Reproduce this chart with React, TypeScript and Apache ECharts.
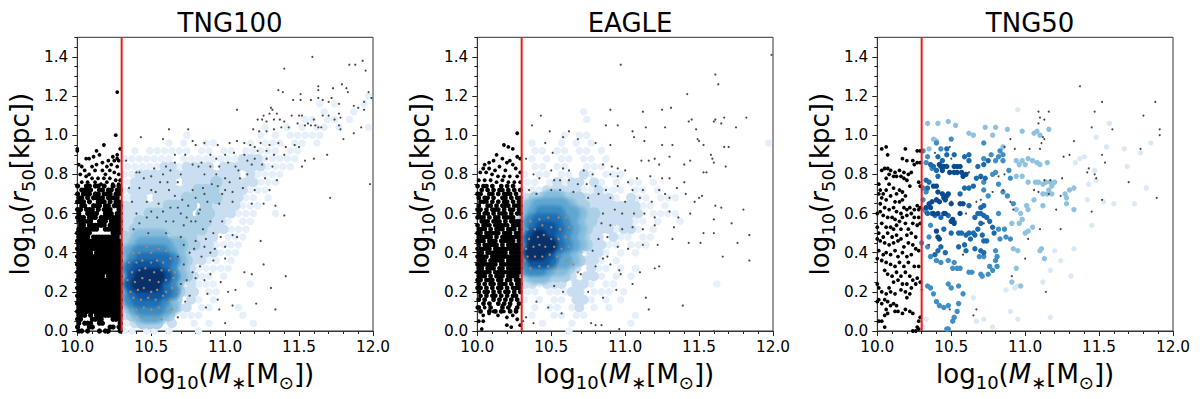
import React, { useEffect, useRef } from "react";
import * as echarts from "echarts";

const titles = ["TNG100", "EAGLE", "TNG50"];
const yTicks = [0, 0.2, 0.4, 0.6, 0.8, 1.0, 1.2, 1.4];
const massCut = 10.3;
const blues = ["#e6f0fa", "#c9def0", "#abd0e6", "#85bcdc", "#5fa6d1", "#3b8bc2", "#1f6fb4", "#0d559f", "#08306b"];

// estimated density: one row per r50 value, one digit per mass bin
const densityRs = [1.2, 1.16, 1.12, 1.08, 1.04, 1.0, 0.96, 0.92, 0.88, 0.84, 0.8, 0.76, 0.72, 0.68, 0.64, 0.6, 0.56, 0.52, 0.48, 0.44, 0.4, 0.36, 0.32, 0.28, 0.24, 0.2, 0.16, 0.12, 0.08, 0.04, 0.0];
const tng100Density = [
  "00000 00000 00000 00000 00000 00000 00010",
  "00000 00000 00000 00000 00000 01010 00100",
  "00000 00000 00000 00000 00000 00100 01001",
  "00000 00000 00000 00000 00001 10110 10001",
  "00000 00000 00000 00001 00101 01101 00011",
  "00000 00010 00000 00010 10111 11000 00000",
  "00000 01010 01100 00101 11011 01000 00000",
  "01011 11110 11011 01111 10110 00000 00000",
  "11111 11011 11111 12221 11110 00000 00000",
  "11111 22122 22022 22221 11100 00000 00000",
  "11222 22222 22222 20211 11000 00000 00000",
  "12222 22022 22322 22211 10000 00000 00000",
  "12222 22222 33322 22111 00000 00000 00000",
  "12202 22233 33322 21101 00000 00000 00000",
  "22222 23333 03222 21110 00000 00000 00000",
  "22233 33330 33222 11100 10000 00000 00000",
  "22333 33333 33221 01100 00000 00000 00000",
  "23333 33333 32221 11000 00000 00000 00000",
  "33444 40333 22201 11000 00000 00000 00000",
  "34555 54433 22111 10000 00000 00000 00000",
  "45666 65432 22211 10000 00000 00000 00000",
  "46777 76432 21101 00000 00000 00000 00000",
  "57888 76432 11111 00000 00000 00000 00000",
  "58999 86432 11010 00000 00000 00000 00000",
  "58999 76402 11100 00100 00000 00000 00000",
  "57888 76322 01100 00000 00000 00000 00000",
  "46777 64302 10100 00000 00000 00000 00000",
  "35666 54220 11000 10000 00000 00000 00000",
  "23455 43011 10000 01000 00000 00000 00000",
  "12333 02001 01000 00100 00000 00000 00000",
  "11011 01000 10000 00000 00000 00000 00000",
];
const eagleDensity = [
  "00000 00000 00000 00000 00000 00000 00000",
  "00000 00000 00000 00000 00000 00000 00000",
  "00000 00010 00000 00000 00000 00000 00000",
  "00000 00010 00000 00000 00000 00000 00000",
  "00000 00000 00000 00000 00000 00000 00000",
  "00000 10110 00000 00000 00000 00000 00000",
  "01000 10101 00000 00000 00000 00000 00010",
  "01101 10110 10000 00000 00000 00000 00000",
  "01010 11011 01000 00000 00000 00000 00000",
  "01101 10011 10000 00000 00000 00000 00000",
  "10110 11021 01110 00000 00000 00000 00000",
  "11012 12202 10101 10100 00000 00000 00000",
  "11122 22211 21110 11010 00000 00000 00000",
  "23344 33322 22102 11011 10000 00000 00000",
  "34555 54332 22222 21101 00000 00000 00000",
  "45666 55433 22222 20111 10000 00000 00000",
  "46777 65433 22222 11010 01000 00000 00000",
  "57887 65432 22122 10100 00000 00000 00000",
  "58987 65432 20211 01100 00000 00000 00000",
  "69997 65432 21101 11000 00000 00000 00000",
  "69986 54302 21010 10000 00000 00000 00000",
  "68875 54322 10100 00000 00000 00000 00000",
  "56654 43202 11010 10000 00000 00000 00000",
  "34433 32022 10101 00000 00000 00000 00000",
  "22122 20221 01100 00000 00000 01000 00000",
  "11011 12201 11010 00000 00000 00000 00000",
  "10101 10221 01010 00000 00000 00000 00000",
  "01011 01201 01000 00000 00000 00000 00000",
  "01001 10110 00000 10000 00000 00000 00000",
  "00100 01000 00001 00000 00000 00000 00000",
  "00000 01000 00000 00000 00000 00000 00000",
];

// black dense regions: rows from r = 0.74 down in 0.02 steps, columns from 10.00 in 0.02 steps
const tng100Black = [
  "#..##.##.#..#.#", ".####..##.##.##", "#.###.##.###.##", "##.#.####.####.", "###.#..###.#.##",
  ".##..###.##.###", "##.###.#.###..#", "#..####..###.##", "###.###.#######", "#####..###.####",
  ".##.######.####", "#######..######", "#####.......###", "####.#########.", "###############",
  "###############", "###############", "#####.#########", "###############", "###############",
  "###############", "###############", "###############", "#########.#####", "###############",
  "###############", "###############", "###############", "###############", "###############",
  "###############", "###############", "###############", "###.#.#########", "##...####...###",
  "#.###..##.....#", "#...##.....##.#", "##.#...#.##...#",
];
const eagleBlack = [
  "#.##.#..#.#.#..", ".#.#.#.##.#.#.#", "##..##.#.###.#.", "#.##.#..##.#.##", ".###.#.#.##.#.#",
  "#..##.#.###.###", "##.#.###.#.##.#", "#.##.#.###.#.##", "###.#.##.####..", ".###.###.#.####",
  "#.###.#####.###", "###.#.###.###.#", "##.#####.###.##", "#####.#.#######", "###.###.#####.#",
  "#.#####.#.#####", "#####.#########", "##.#######.####", "####.##########", "###.#####.#####",
  "#######.#######", "##.###.##.#####", "#####.#########", "###.#.###.####.", "##.###.##.##.##",
  "#.#.##.###.#.##", "##.#.#.##.#.###", "#.##.#.#.##.#.#", ".#.#.##.#.#.##.", "#.#..#.#.#.#.#.",
  "..#.#..#.#.#..#", "#...#...#.#..#.", ".#..#.#.#..#.#.",
];
const tng100BlackSparse = [[10.27,1.22],[10.26,1.0],[10.18,.95],[10.29,.93],[10.0,.93],[10.0,.92],[10.13,.92],[10.15,.9],[10.11,.89],[10.06,.88],[10.08,.88],[10.24,.89],[10.27,.9],[10.27,.88],[10.25,.87],[10.28,.87],[10.21,.87],[10.17,.86],[10.13,.85],[10.01,.85],[10.03,.84],[10.1,.84],[10.2,.84],[10.23,.85],[10.27,.84],[10.05,.82],[10.08,.8],[10.12,.82],[10.17,.82],[10.19,.8],[10.22,.82],[10.25,.81],[10.28,.8],[10.02,.8],[10.06,.79],[10.1,.78],[10.14,.78],[10.18,.78],[10.22,.78],[10.26,.77],[10.29,.77],[10.03,.76],[10.07,.76],[10.12,.76],[10.16,.75],[10.2,.76],[10.24,.75],[10.28,.75]];
const eagleBlackSparse = [[10.27,1.01],[10.18,.95],[10.21,.94],[10.24,.93],[10.13,.9],[10.17,.88],[10.27,.89],[10.29,.88],[10.11,.87],[10.08,.86],[10.05,.85],[10.2,.86],[10.22,.87],[10.24,.85],[10.04,.83],[10.08,.83],[10.12,.82],[10.15,.84],[10.19,.82],[10.26,.83],[10.29,.81],[10.02,.81],[10.06,.81],[10.1,.8],[10.14,.79],[10.18,.79],[10.22,.79],[10.27,.79],[10.01,.77],[10.05,.77],[10.09,.77],[10.13,.76],[10.17,.77],[10.21,.76],[10.25,.76],[10.29,.76],[10.04,.08],[10.08,.09],[10.11,.1],[10.14,.08],[10.18,.1],[10.2,.07],[10.24,.08],[10.01,.05],[10.04,.05],[10.2,.03],[10.03,.01],[10.23,.02],[10.27,.06],[10.29,.03],[10.0,.12],[10.05,.12],[10.26,.11],[10.17,.13],[10.22,.13]];
const tng50Black = [[10.03,.93],[10.06,.94],[10.19,.93],[10.27,.92],[10.29,.92],[10.17,.88],[10.2,.87],[10.07,.9],[10.24,.87],[10.27,.86],[10.29,.86],[10.25,.85],[10.05,.83],[10.07,.83],[10.09,.82],[10.12,.81],[10.15,.82],[10.18,.81],[10.03,.82],[10.08,.8],[10.11,.79],[10.13,.79],[10.16,.79],[10.18,.78],[10.21,.8],[10.23,.81],[10.06,.78],[10.2,.77],[10.22,.74],[10.28,.76],[10.29,.74],[10.01,.75],[10.02,.72],[10.04,.7],[10.06,.72],[10.08,.75],[10.11,.73],[10.13,.7],[10.15,.72],[10.17,.71],[10.19,.69],[10.01,.7],[10.03,.68],[10.06,.67],[10.09,.69],[10.12,.66],[10.15,.66],[10.17,.67],[10.02,.65],[10.05,.63],[10.08,.62],[10.11,.63],[10.13,.61],[10.16,.6],[10.18,.63],[10.2,.62],[10.22,.63],[10.25,.62],[10.27,.64],[10.29,.63],[10.28,.62],[10.0,.6],[10.02,.61],[10.04,.59],[10.07,.58],[10.1,.58],[10.12,.57],[10.15,.56],[10.17,.58],[10.2,.59],[10.23,.6],[10.25,.58],[10.28,.58],[10.0,.53],[10.03,.55],[10.06,.53],[10.09,.53],[10.11,.52],[10.13,.54],[10.16,.52],[10.19,.55],[10.21,.52],[10.24,.55],[10.27,.54],[10.29,.55],[10.01,.5],[10.04,.48],[10.07,.5],[10.1,.48],[10.13,.49],[10.16,.47],[10.2,.49],[10.23,.5],[10.26,.48],[10.0,.47],[10.02,.46],[10.05,.45],[10.08,.44],[10.11,.45],[10.14,.46],[10.18,.43],[10.21,.45],[10.24,.44],[10.26,.42],[10.28,.41],[10.01,.41],[10.04,.39],[10.06,.4],[10.09,.39],[10.12,.41],[10.14,.38],[10.17,.4],[10.2,.38],[10.23,.39],[10.0,.37],[10.03,.36],[10.06,.35],[10.09,.34],[10.12,.33],[10.15,.35],[10.18,.33],[10.21,.35],[10.25,.33],[10.28,.33],[10.05,.31],[10.07,.29],[10.1,.28],[10.13,.3],[10.16,.28],[10.19,.3],[10.22,.28],[10.24,.26],[10.27,.27],[10.11,.25],[10.14,.26],[10.17,.24],[10.2,.24],[10.23,.22],[10.26,.24],[10.29,.25],[10.0,.24],[10.01,.22],[10.03,.2],[10.08,.22],[10.06,.19],[10.09,.2],[10.12,.19],[10.16,.21],[10.19,.2],[10.2,.17],[10.22,.19],[10.01,.16],[10.0,.15],[10.03,.14],[10.05,.16],[10.07,.15],[10.09,.13],[10.11,.14],[10.13,.13],[10.06,.11],[10.07,.09],[10.12,.1],[10.14,.1],[10.17,.09],[10.19,.11],[10.22,.1],[10.24,.09],[10.05,.08],[10.01,.05],[10.03,.05],[10.05,.02],[10.29,.07],[10.28,.05],[10.27,.02],[10.26,0],[10.24,0],[10.28,.01]];

// small points
const tng100Small = [[11.59,1.4],[11.4,1.34],[11.84,1.36],[11.88,1.36],[11.93,1.38],[11.95,1.33],[11.79,1.26],[11.73,1.24],[11.63,1.25],[11.82,1.24],[11.83,1.22],[11.97,1.22],[11.99,1.19],[11.94,1.17],[11.36,1.23],[11.39,1.22],[11.63,1.23],[11.46,1.18],[11.51,1.18],[11.51,1.21],[11.58,1.18],[11.63,1.19],[11.66,1.18],[11.72,1.19],[11.7,1.17],[11.77,1.16],[11.87,1.15],[11.9,1.14],[11.94,1.13],[11.08,1.13],[11.31,1.14],[11.32,1.13],[11.3,1.11],[11.35,1.11],[11.26,1.1],[11.22,1.08],[11.25,1.08],[11.28,1.07],[11.33,1.08],[11.37,1.08],[11.4,1.07],[11.45,1.1],[11.5,1.1],[11.52,1.1],[11.6,1.08],[11.66,1.1],[11.7,1.1],[11.77,1.11],[11.78,1.09],[11.74,1.08],[11.49,1.06],[11.54,1.05],[11.56,1.06],[11.58,1.05],[11.61,1.05],[11.63,1.04],[11.65,1.04],[11.43,1.04],[11.38,1.04],[11.33,1.03],[11.28,1.02],[11.23,1.02],[11.19,1.03],[11.77,1.05],[11.78,1.03],[11.8,.98],[11.87,1.01],[11.92,1.04],[10.62,1.03],[10.75,1.03],[10.43,.99],[10.58,.98],[10.78,.97],[10.8,.95],[10.86,.96],[10.95,.95],[11.03,.96],[11.08,.97],[11.13,.96],[11.17,.95],[11.2,.94],[11.24,.96],[11.3,.95],[11.36,.96],[11.41,.94],[11.47,.95],[11.5,.94],[11.4,.9],[11.33,.9],[11.28,.88],[11.2,.88],[11.13,.9],[11.06,.91],[11.0,.9],[10.94,.88],[10.9,.9],[10.84,.86],[10.73,.9],[10.66,.9],[10.33,.87],[10.4,.81],[10.42,.81],[10.6,.84],[10.66,.86],[10.78,.85],[10.82,.84],[10.9,.84],[10.96,.84],[11.02,.86],[11.07,.84],[11.18,.85],[11.25,.85],[11.32,.84],[11.52,.84],[11.54,.87],[11.6,.88],[11.69,.9],[10.45,.78],[10.5,.79],[10.58,.8],[10.63,.82],[10.7,.8],[10.86,.8],[10.94,.8],[11.0,.78],[11.1,.78],[11.15,.8],[11.27,.78],[11.35,.77],[10.35,.73],[10.42,.73],[10.5,.72],[10.53,.71],[10.62,.72],[10.68,.76],[10.78,.72],[10.85,.73],[10.95,.74],[11.0,.72],[11.05,.71],[11.12,.73],[11.2,.72],[11.3,.72],[10.37,.66],[10.47,.66],[10.55,.65],[10.63,.63],[10.68,.63],[10.75,.64],[10.83,.62],[10.88,.66],[10.96,.65],[11.05,.66],[11.18,.65],[11.26,.65],[11.34,.64],[11.71,.68],[10.4,.6],[10.47,.58],[10.54,.58],[10.6,.56],[10.65,.56],[10.72,.54],[10.77,.56],[10.82,.6],[10.9,.56],[10.98,.56],[11.05,.49],[11.08,.48],[11.4,.59],[11.24,.46],[11.98,.75],[10.38,.52],[10.48,.5],[10.6,.5],[10.7,.48],[10.8,.46],[10.87,.47],[10.93,.42],[11.0,.43],[10.76,.4],[10.84,.38],[10.92,.36],[11.0,.37],[10.83,.33],[10.78,.3],[10.9,.29],[10.97,.25],[11.13,.3],[11.18,.29],[11.26,.34],[11.41,.28],[11.31,.22],[11.02,.2],[11.07,.21],[10.88,.19],[10.95,.16],[11.05,.13],[10.96,.11],[10.87,.12],[11.21,.14],[11.34,.11],[11.0,.04],[10.73,.15],[10.68,.07],[10.52,.83],[10.56,.76],[10.61,.76],[10.66,.69],[10.71,.67],[10.8,.68],[10.86,.7],[10.91,.75],[10.98,.7],[11.03,.76],[11.09,.82],[11.15,.87],[11.22,.92],[11.28,.92],[10.42,.55],[10.5,.61],[10.58,.61],[10.7,.6],[10.74,.58],[10.8,.56],[10.85,.52],[10.92,.5],[10.97,.48],[10.72,.44],[10.79,.42],[10.86,.43],[10.9,.4],[10.68,.38],[10.72,.34],[10.8,.27],[10.86,.26],[10.74,.26],[10.7,.24],[10.76,.18]];
const tng100Tan = [[10.38,.4],[10.42,.4],[10.47,.43],[10.5,.4],[10.55,.42],[10.6,.41],[10.35,.35],[10.4,.35],[10.44,.36],[10.5,.35],[10.54,.36],[10.58,.35],[10.63,.37],[10.37,.3],[10.42,.31],[10.46,.32],[10.52,.3],[10.57,.31],[10.62,.31],[10.66,.3],[10.34,.26],[10.39,.25],[10.44,.27],[10.49,.26],[10.55,.25],[10.6,.26],[10.65,.27],[10.36,.2],[10.41,.21],[10.45,.22],[10.5,.2],[10.54,.21],[10.6,.2],[10.64,.22],[10.68,.2],[10.38,.17],[10.43,.16],[10.48,.17],[10.53,.16],[10.58,.18],[10.63,.16],[10.4,.11],[10.45,.12],[10.5,.11],[10.55,.12],[10.6,.1],[10.64,.11],[10.43,.07],[10.52,.07],[10.57,.06]];
const eagleSmall = [[11.99,1.41],[10.97,1.36],[11.61,1.31],[11.63,1.26],[11.42,1.21],[11.25,1.13],[11.31,1.14],[10.9,1.13],[11.12,1.12],[11.43,1.07],[11.45,1.08],[11.6,1.07],[11.61,1.08],[11.65,1.06],[11.67,1.09],[11.82,1.09],[10.43,1.1],[10.37,1.05],[10.87,1.05],[10.95,1.05],[11.05,1.02],[11.14,1.04],[11.27,1.04],[11.48,1.03],[11.75,1.04],[10.49,1.02],[10.62,1.02],[10.58,.99],[10.68,.98],[10.8,.96],[10.9,.95],[11.06,.99],[11.13,.97],[11.25,.95],[11.32,.95],[11.49,.98],[11.5,.97],[11.53,.95],[10.46,.96],[10.51,.91],[11.67,.94],[11.7,.94],[11.58,.9],[11.59,.88],[11.6,.86],[10.33,.88],[10.85,.85],[10.91,.84],[10.95,.83],[11.0,.82],[11.11,.87],[11.16,.87],[11.2,.88],[11.23,.85],[11.3,.89],[11.4,.85],[11.44,.87],[11.53,.81],[11.55,.81],[11.68,.84],[10.5,.82],[10.58,.83],[10.62,.82],[10.72,.82],[10.78,.8],[10.9,.8],[10.95,.79],[11.02,.76],[11.08,.78],[11.17,.79],[11.25,.78],[11.3,.78],[11.4,.76],[10.38,.8],[10.42,.78],[10.52,.77],[10.56,.77],[10.62,.77],[10.68,.75],[10.74,.75],[10.8,.74],[10.87,.72],[10.95,.74],[11.05,.72],[11.12,.72],[11.23,.72],[11.27,.7],[11.35,.73],[11.41,.7],[11.5,.68],[11.52,.69],[10.35,.72],[10.4,.7],[10.5,.72],[10.56,.72],[10.65,.71],[10.75,.68],[10.82,.7],[10.9,.68],[11.0,.66],[11.1,.68],[11.18,.66],[11.3,.68],[11.47,.66],[11.61,.64],[11.65,.63],[11.8,.62],[10.85,.6],[10.93,.62],[10.98,.6],[11.06,.6],[11.13,.6],[11.2,.58],[11.3,.61],[11.36,.58],[11.44,.6],[11.6,.57],[11.72,.55],[10.84,.55],[10.9,.54],[10.98,.52],[11.05,.53],[11.12,.52],[11.2,.54],[11.33,.53],[11.53,.5],[11.6,.5],[11.84,.49],[11.76,.45],[11.32,.47],[11.43,.45],[11.51,.45],[10.82,.47],[10.88,.48],[10.95,.43],[11.02,.42],[11.12,.44],[11.22,.44],[10.78,.41],[10.85,.37],[10.88,.38],[11.66,.38],[11.84,.36],[10.8,.33],[10.9,.34],[10.96,.31],[11.1,.3],[11.2,.32],[11.23,.33],[10.7,.29],[10.97,.29],[11.05,.24],[10.52,.23],[10.58,.2],[10.75,.2],[10.85,.17],[10.94,.21],[11.14,.17],[11.16,.11],[11.39,.13],[10.4,.15],[10.48,.12],[10.57,.09],[10.33,.07],[10.38,.04],[10.31,.05],[10.77,.04],[10.8,.03],[10.84,.03],[10.96,.01],[11.6,0]];
const eagleTan = [[10.36,.56],[10.42,.57],[10.48,.58],[10.55,.58],[10.6,.58],[10.34,.52],[10.39,.52],[10.44,.54],[10.5,.53],[10.56,.52],[10.62,.53],[10.35,.47],[10.41,.48],[10.45,.49],[10.5,.47],[10.55,.47],[10.6,.48],[10.33,.42],[10.38,.43],[10.42,.44],[10.46,.43],[10.52,.43],[10.57,.42],[10.62,.43],[10.34,.38],[10.39,.38],[10.44,.38],[10.49,.39],[10.54,.38],[10.6,.36],[10.36,.32],[10.42,.33],[10.48,.33],[10.53,.32],[10.32,.36],[10.65,.34],[10.68,.3]];
const tng50Small = [[11.37,1.25],[11.52,1.17],[11.88,1.17],[11.09,1.12],[11.16,1.12],[11.47,1.12],[11.8,1.1],[11.1,1.09],[11.13,1.08],[11.09,1.06],[11.45,1.04],[11.59,1.03],[11.91,1.03],[11.91,1.0],[11.12,.99],[11.13,.98],[10.9,.98],[11.33,.97],[11.11,.96],[11.1,.93],[10.86,.94],[10.93,.93],[10.49,.94],[11.03,.93],[11.78,.93],[11.26,.89],[11.3,.9],[11.52,.9],[11.54,.86],[10.39,.91],[10.5,.88],[11.43,.83],[11.42,.81],[10.62,.81],[10.7,.78],[10.82,.79],[10.86,.8],[11.13,.77],[11.17,.77],[11.25,.78],[11.47,.8],[11.48,.78],[11.7,.76],[11.06,.72],[11.09,.71],[11.16,.7],[11.24,.69],[10.78,.71],[10.85,.72],[11.52,.67],[11.89,.68],[10.7,.67],[10.67,.66],[10.5,.66],[10.9,.66],[10.92,.62],[11.21,.62],[11.45,.61],[10.6,.6],[10.53,.56],[10.72,.55],[11.1,.52],[11.24,.52],[11.02,.47],[10.35,.44],[11.0,.37],[10.58,.39],[10.91,.28],[11.14,.2],[10.49,.11],[10.65,.08],[10.67,.11],[10.3,.21]];

// TNG50 points, split by the shade
const tng50Dark = [[10.43,.84],[10.45,.84],[10.47,.84],[10.52,.84],[10.54,.84],[10.56,.84],[10.54,.81],[10.57,.81],[10.6,.8],[10.58,.79],[10.42,.85],[10.44,.82],[10.49,.81],[10.52,.81],[10.4,.74],[10.41,.71],[10.38,.74],[10.44,.7],[10.45,.68],[10.47,.69],[10.42,.66],[10.37,.66],[10.46,.67],[10.48,.7],[10.33,.63],[10.36,.63],[10.41,.6],[10.45,.6],[10.46,.6],[10.5,.65],[10.56,.65],[10.58,.65],[10.51,.57],[10.52,.55],[10.56,.6],[10.5,.56],[10.4,.51],[10.42,.47],[10.41,.48],[10.38,.6],[10.35,.65],[10.4,.67]];
const tng50Deep = [[10.33,.77],[10.35,.76],[10.34,.73],[10.41,.79],[10.37,.6],[10.45,.52],[10.39,.59],[10.43,.58],[10.34,.6],[10.48,.59],[10.5,.5],[10.55,.5],[10.57,.5],[10.6,.49],[10.62,.5],[10.63,.47],[10.65,.5],[10.66,.49],[10.68,.52],[10.7,.55],[10.7,.6],[10.68,.6],[10.66,.58],[10.72,.59],[10.74,.58],[10.7,.63],[10.72,.64],[10.76,.56],[10.78,.53],[10.79,.5],[10.56,.7],[10.59,.73],[10.62,.73],[10.62,.64],[10.65,.74],[10.67,.78],[10.7,.79],[10.73,.78],[10.68,.84],[10.72,.85],[10.75,.87],[10.62,.87],[10.59,.89],[10.62,.9],[10.52,.9],[10.47,.9],[10.47,.93],[10.44,.87],[10.41,.89],[10.36,.85],[10.38,.84],[10.4,.82],[10.71,.49],[10.72,.46],[10.74,.46],[10.66,.42],[10.7,.41],[10.72,.4],[10.59,.44],[10.6,.41],[10.55,.43],[10.46,.4],[10.43,.43],[10.41,.41],[10.39,.39]];
const tng50Mid = [[10.31,.73],[10.33,.71],[10.31,.67],[10.32,.62],[10.33,.61],[10.36,.54],[10.35,.48],[10.34,.43],[10.3,.45],[10.36,.38],[10.4,.36],[10.43,.35],[10.48,.36],[10.52,.35],[10.54,.32],[10.56,.32],[10.51,.32],[10.62,.3],[10.64,.3],[10.7,.29],[10.71,.28],[10.75,.29],[10.78,.31],[10.8,.36],[10.81,.33],[10.76,.33],[10.72,.38],[10.69,.38],[10.81,.38],[10.8,.41],[10.87,.48],[10.83,.47],[10.9,.47],[10.82,.52],[10.86,.52],[10.82,.6],[10.75,.69],[10.72,.72],[10.72,.76],[10.78,.8],[10.8,.81],[10.82,.75],[10.85,.71],[10.88,.69],[10.92,.65],[10.9,.78],[10.89,.82],[10.85,.87],[10.82,.89],[10.8,.87],[10.77,.9],[10.72,.88],[10.72,.96],[10.83,.92],[10.85,.9],[10.5,.98],[10.4,.96],[10.43,.93],[10.34,.89],[10.33,.86],[10.37,.83],[10.31,.92],[10.48,.24],[10.5,.22],[10.55,.23],[10.58,.19],[10.55,.14],[10.54,.1],[10.52,.07],[10.51,.05],[10.48,.13],[10.45,.12],[10.42,.13],[10.4,.15],[10.38,.19],[10.36,.22],[10.34,.23],[10.47,.01],[10.48,.01]];
const tng50Light = [[10.34,1.06],[10.41,1.06],[10.48,1.07],[10.53,1.05],[10.62,1.01],[10.65,1.0],[10.78,1.0],[10.8,1.04],[10.88,1.03],[10.98,1.02],[11.1,1.0],[11.06,1.01],[11.16,1.03],[11.08,1.02],[10.38,.98],[10.4,.97],[10.35,.93],[10.73,1.04],[10.85,.94],[10.94,.87],[10.98,.87],[10.96,.85],[11.0,.85],[11.02,.88],[11.05,.87],[11.08,.86],[11.15,.86],[11.1,.85],[10.94,.79],[10.98,.79],[11.02,.76],[11.07,.76],[11.09,.76],[11.12,.75],[11.14,.76],[11.17,.76],[11.2,.76],[11.12,.7],[11.15,.7],[11.06,.67],[11.12,.64],[11.18,.74],[11.16,.72],[10.94,.62],[10.97,.6],[10.98,.57],[10.96,.55],[10.91,.55],[11.0,.5],[11.05,.53],[10.92,.42],[10.95,.41],[11.1,.41],[11.11,.42],[11.13,.37],[11.02,.51],[10.94,.32],[10.91,.25],[10.97,.23],[11.02,.62],[11.01,.64],[11.18,.7],[11.27,.7],[11.3,.72],[11.28,.68],[11.28,.65],[11.33,.62],[11.33,.73]];
const tng50Pale = [[10.95,1.13],[11.34,.86],[11.37,.88],[11.4,.89],[11.43,.75],[11.42,.67],[11.47,.82],[11.48,.77],[11.53,.66],[11.6,.65],[11.57,1.06],[11.55,.94],[11.48,.99],[11.67,.93],[11.69,.84],[11.82,.73],[11.74,.65],[11.85,.96],[11.78,.91],[11.45,.54],[11.2,.41],[11.24,.36],[11.33,.42],[11.17,.31],[11.31,.28],[11.12,.25],[11.17,.07],[10.95,.06],[10.9,.1],[10.78,.02],[10.72,.06],[10.67,.05],[10.65,.17],[10.87,.21],[10.95,.23],[10.93,.22],[10.33,.06],[10.31,.02],[10.3,.25]];

const massLabel = "{t|log}{s|10}{t|(}{i|M}{s|∗}{t|[M}{s|⊙}{t|])}";
const sizeLabel = "{t|log}{s|10}{t|(}{i|r}{s|50}{t|[kpc])}";

function densityPoints(rows: string[], level: number) {
  const out: number[][] = [];
  rows.forEach((row, i) => {
    row.replace(/ /g, "").split("").forEach((ch, j) => {
      if (Number(ch) === level) out.push([10.32 + 0.05 * j + (i % 2 ? 0.02 : 0), densityRs[i]]);
    });
  });
  return out;
}
function blackPoints(rows: string[]) {
  const out: number[][] = [];
  rows.forEach((row, i) => {
    row.split("").forEach((ch, j) => {
      if (ch === "#") out.push([10.002 + 0.02 * j + (i % 2 ? 0.008 : 0), 0.74 - 0.02 * i]);
    });
  });
  return out;
}
function softColor(hex: string) {
  return {
    type: "radial", x: 0.5, y: 0.5, r: 0.5,
    colorStops: [
      { offset: 0, color: hex },
      { offset: 0.5, color: hex },
      { offset: 1, color: hex + "00" },
    ],
  };
}

const rich = {
  t: { fontSize: 26, fontFamily: "DejaVu Sans", color: "#000", lineHeight: 36, verticalAlign: "middle" },
  i: { fontSize: 26, fontFamily: "DejaVu Sans", fontStyle: "italic", color: "#000", lineHeight: 36, verticalAlign: "middle" },
  s: { fontSize: 18, fontFamily: "DejaVu Sans", color: "#000", lineHeight: 36, height: 20, verticalAlign: "bottom" },
};

export default function App() {
  const ref = useRef<HTMLDivElement>(null);
  useEffect(() => {
    const chart = echarts.init(ref.current!, undefined, { renderer: "svg" });
    const lefts = [77.3, 477.3, 877.3];
    const grids = lefts.map((left) => ({ left, top: 37.3, width: 295.7, height: 293.7, show: true, borderColor: "#333", borderWidth: 1, backgroundColor: "transparent", outerBoundsMode: "none", containLabel: false }));
    const xAxis = lefts.map((_, i) => ({
      type: "value", gridIndex: i, min: 10, max: 12, interval: 0.5,
      name: massLabel, nameLocation: "middle", nameGap: 25, nameTextStyle: { rich },
      axisLine: { show: true, onZero: false, lineStyle: { color: "#333", width: 1 } },
      axisTick: { show: true, length: 5, lineStyle: { color: "#222", width: 1 } },
      minorTick: { show: true, splitNumber: 5, length: 3, lineStyle: { color: "#222", width: 1 } },
      splitLine: { show: false },
      axisLabel: { show: true, margin: 8, fontSize: 15.3, fontFamily: "DejaVu Sans", color: "#000", formatter: (v: number) => v.toFixed(1), hideOverlap: false, showMinLabel: true, showMaxLabel: true },
    }));
    const yAxis: any[] = [];
    lefts.forEach((_, i) => {
      yAxis.push({
        type: "value", gridIndex: i, min: 0, max: 1.5, interval: 0.2, position: "left",
        name: sizeLabel, nameLocation: "middle", nameGap: 39, nameRotate: 90, nameTextStyle: { rich },
        axisLine: { show: true, onZero: false, lineStyle: { color: "#333", width: 1 } },
        axisTick: { show: true, length: 5, customValues: yTicks, lineStyle: { color: "#222", width: 1 } },
        splitLine: { show: false },
        axisLabel: { show: true, margin: 9, fontSize: 15.3, fontFamily: "DejaVu Sans", color: "#000", customValues: yTicks, formatter: (v: number) => v.toFixed(1) },
      });
      yAxis.push({
        type: "value", gridIndex: i, min: 0, max: 1.5, interval: 0.05, position: "left",
        axisLine: { show: false }, axisLabel: { show: false }, splitLine: { show: false },
        axisTick: { show: true, length: 3, lineStyle: { color: "#222", width: 1 } },
      });
    });
    const series: any[] = [];
    const sc = (panel: number, data: number[][], color: any, size: number) => series.push({
      type: "scatter", xAxisIndex: panel, yAxisIndex: panel * 2, data, symbol: "circle", symbolSize: size,
      itemStyle: { color, opacity: 1 }, silent: true,
    });
    const sizes = [7.5, 10, 12.5, 21, 21, 21, 21, 21, 21];
    [tng100Density, eagleDensity].forEach((rows, p) => {
      blues.forEach((c, k) => sc(p, densityPoints(rows, k + 1), k < 3 ? c : softColor(c), sizes[k]));
    });
    sc(0, blackPoints(tng100Black), "#000", 5.2);
    sc(0, tng100BlackSparse, "#000", 3.8);
    sc(1, blackPoints(eagleBlack), "#000", 4.8);
    sc(1, eagleBlackSparse, "#000", 3.8);
    sc(0, tng100Small, "#4a4a4a", 2.2);
    sc(0, tng100Tan, "#a8866c", 2.4);
    sc(1, eagleSmall, "#4a4a4a", 2.2);
    sc(1, eagleTan, "#a8866c", 2.4);
    sc(2, tng50Pale, "#dbe9f6", 5.4);
    sc(2, tng50Light, "#8fc2de", 5.4);
    sc(2, tng50Mid, "#3f8fc5", 5.4);
    sc(2, tng50Deep, "#1b6aae", 5.4);
    sc(2, tng50Dark, "#0a4a90", 5.4);
    sc(2, tng50Black, "#000", 3.8);
    sc(2, tng50Small, "#444", 2);
    [0, 1, 2].forEach((p) => series.push({
      type: "line", xAxisIndex: p, yAxisIndex: p * 2, data: [[massCut, 0], [massCut, 1.5]],
      symbol: "none", lineStyle: { color: "#f01818", width: 2 }, silent: true, z: 5,
    }));
    chart.setOption({
      animation: false,
      title: titles.map((text, i) => ({
        text, left: lefts[i] + 147.8, top: 5, textAlign: "center",
        textStyle: { fontFamily: "DejaVu Sans", fontSize: 26, fontWeight: "normal", color: "#000" },
      })),
      grid: grids, xAxis, yAxis, series,
    });
    return () => chart.dispose();
  }, []);
  return <div ref={ref} style={{ position: "absolute", left: 0, top: 0, width: 1200, height: 399 }} />;
}
